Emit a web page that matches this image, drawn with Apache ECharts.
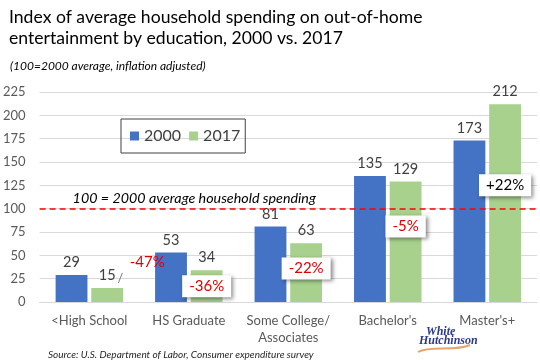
<!DOCTYPE html>
<html><head><meta charset="utf-8">
<script src="https://cdn.jsdelivr.net/npm/echarts@6/dist/echarts.min.js"></script>
<style>html,body{margin:0;padding:0;background:#fff}#c{width:540px;height:360px}</style>
</head><body><div id="c"></div>
<script>
const categories = ['<High School', 'HS Graduate', 'Some College/\nAssociates', "Bachelor's", "Master's+"];
const values2000 = [29, 53, 81, 135, 173];
const values2017 = [15, 34, 63, 129, 212];
const changeLabels = ['-47%', '-36%', '-22%', '-5%', '+22%'];
const changeAnchorValues = [43, 17, 36, 81, 125];
const yTicks = [0, 25, 50, 75, 100, 125, 150, 175, 200, 225];
const referenceValue = 100;

const chart = echarts.init(document.getElementById('c'), null, {renderer: 'canvas'});
const FONT = 'Lato, "Open Sans", sans-serif';

const markData = changeLabels.map((t, i) => {
  const boxed = i !== 0;
  return {
    coord: [i, changeAnchorValues[i]],
    symbolSize: 0,
    label: {
      show: true,
      position: 'inside',
      formatter: t,
      offset: i === 0 ? [40, 0] : [0, 0],
      color: i === 4 ? '#000' : '#E00000',
      fontSize: 15,
      fontFamily: FONT,
      backgroundColor: boxed ? '#fff' : 'transparent',
      padding: boxed ? [4, 7, 3, 7] : 0,
      shadowColor: boxed ? 'rgba(0,0,0,0.45)' : 'transparent',
      shadowBlur: boxed ? 4 : 0,
      shadowOffsetX: boxed ? 2 : 0,
      shadowOffsetY: boxed ? 2 : 0
    }
  };
});

chart.setOption({
  animation: false,
  textStyle: {fontFamily: FONT},
  title: [{
    text: 'Index of average household spending on out-of-home\nentertainment by education, 2000 vs. 2017',
    left: 4, top: 2,
    textStyle: {fontSize: 17.6, fontWeight: 'normal', color: '#000', lineHeight: 21, fontFamily: FONT}
  }, {
    text: '(100=2000 average, inflation adjusted)',
    left: 5, top: 55,
    textStyle: {fontSize: 12, fontStyle: 'italic', fontWeight: 'normal', color: '#000', fontFamily: FONT}
  }, {
    text: 'Source: U.S. Department of Labor, Consumer expenditure survey',
    left: 43, top: 345,
    textStyle: {fontSize: 10, fontStyle: 'italic', fontWeight: 'normal', color: '#262626', fontFamily: FONT}
  }],
  legend: {
    data: ['2000', '2017'],
    left: 121, top: 119,
    orient: 'horizontal',
    itemWidth: 9, itemHeight: 9, itemGap: 8,
    icon: 'rect',
    borderColor: '#404040', borderWidth: 1,
    padding: [9, 5, 9, 9],
    textStyle: {fontSize: 16, color: '#404040', fontFamily: FONT}
  },
  grid: {left: 39, right: 3, top: 92, bottom: 58},
  xAxis: {
    type: 'category',
    data: categories,
    axisTick: {show: false},
    axisLine: {lineStyle: {color: '#D9D9D9'}},
    axisLabel: {interval: 0, fontSize: 13, color: '#595959', margin: 10, lineHeight: 17, fontFamily: FONT}
  },
  yAxis: {
    type: 'value', min: 0, max: 225, interval: 25,
    axisLine: {show: false}, axisTick: {show: false},
    splitLine: {lineStyle: {color: '#D9D9D9'}},
    axisLabel: {fontSize: 13, color: '#595959', margin: 14, fontFamily: FONT,
      formatter: v => yTicks.includes(v) ? String(v) : ''}
  },
  series: [{
    name: '2000', type: 'bar', data: values2000,
    barWidth: '32%', barGap: '12%',
    itemStyle: {color: '#4472C4'},
    label: {show: true, position: 'top', distance: 5, fontSize: 14.5, color: '#404040', fontFamily: FONT},
    markLine: {
      silent: true, symbol: 'none',
      lineStyle: {color: '#FF0000', type: [6, 4], width: 1.5},
      label: {
        show: true, position: 'insideStartTop',
        formatter: '100 = 2000 average household spending',
        fontSize: 14.3, fontStyle: 'italic', color: '#000', fontFamily: FONT,
        distance: [33, 3]
      },
      data: [{yAxis: referenceValue}]
    },
    z: 2
  }, {
    name: '2017', type: 'bar', data: values2017,
    barWidth: '32%', barGap: '12%',
    itemStyle: {color: '#A9D18E'},
    label: {show: true, position: 'top', distance: 5, fontSize: 14.5, color: '#404040', fontFamily: FONT},
    markPoint: {symbol: 'rect', symbolSize: 0, data: markData, z: 10},
    z: 2
  }]
});

// leader line for the first annotation
const p0 = chart.convertToPixel({seriesIndex: 0}, [0, values2017[0]]);
const p1 = chart.convertToPixel({seriesIndex: 0}, [0, changeAnchorValues[0]]);
chart.setOption({
  graphic: [{
    type: 'line',
    shape: {x1: p0[0] + 29, y1: p0[1] - 5, x2: p0[0] + 33, y2: p1[1] + 11},
    style: {stroke: '#7F7F7F', lineWidth: 1}
  }, {
    type: 'text', left: 426, top: 326,
    style: {text: 'White', font: 'italic bold 12px "Liberation Serif", serif', fill: '#2B3A8C'}
  }, {
    type: 'text', left: 419, top: 335,
    style: {text: 'Hutchinson', font: 'italic bold 12px "Liberation Serif", serif', fill: '#2B3A8C'}
  }, {
    type: 'bezierCurve',
    shape: {x1: 418, y1: 352, x2: 470, y2: 345, cpx1: 430, cpy1: 345, cpx2: 455, cpy2: 352},
    style: {stroke: '#E8A46A', lineWidth: 2, fill: null}
  }]
});
</script></body></html>
